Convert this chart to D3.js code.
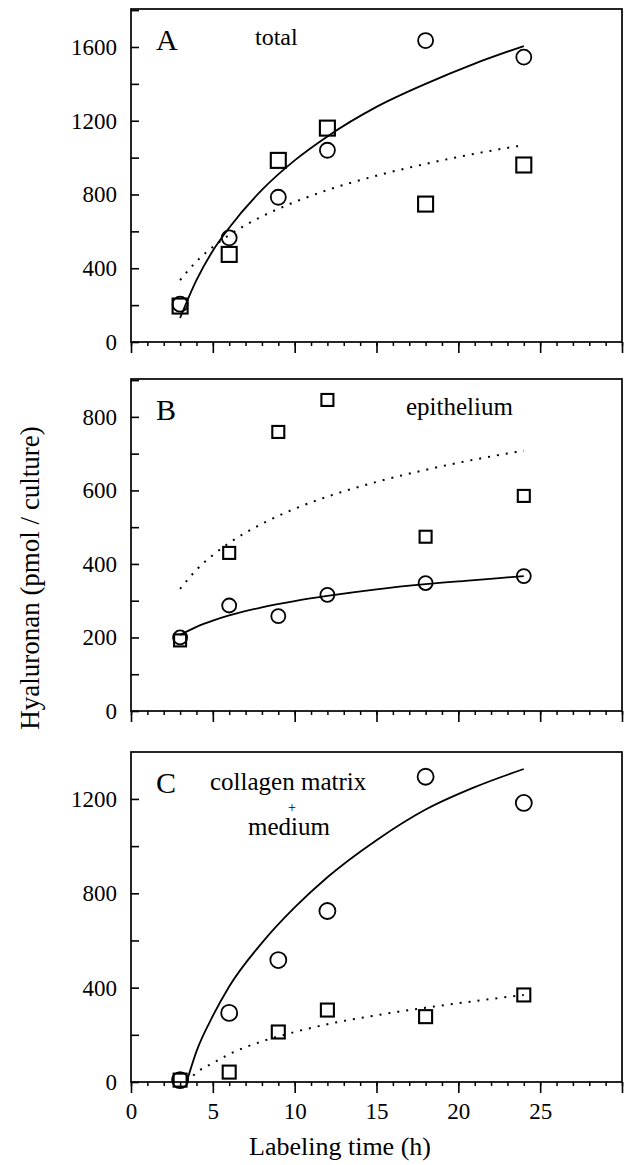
<!DOCTYPE html>
<html>
<head>
<meta charset="utf-8">
<script src="https://cdn.jsdelivr.net/npm/d3@7"></script>
<style>
  body { margin: 0; background: #fff; }
</style>
</head>
<body>
<div id="chart-area"></div>
<script>
const FONT = '"Liberation Serif", "Times New Roman", "DejaVu Serif", serif';

// labeling times (h)
const times = [3, 6, 9, 12, 18, 24];

// panel A - total
const totalCircles = [205, 565, 785, 1040, 1635, 1545];
const totalSquares = [195, 475, 985, 1160, 748, 960];
const totalSolid = [[3, 130], [4, 335], [5, 495], [6, 620], [8, 825], [10, 985], [12, 1115], [15, 1275], [18, 1400], [21, 1510], [24, 1605]];
const totalDotted = [[3, 336], [4, 437], [5, 516], [6, 580], [8, 681], [10, 759], [12, 824], [15, 902], [18, 966], [21, 1021], [24, 1068]];

// panel B - epithelium
const epiCircles = [200, 287, 258, 316, 348, 367];
const epiSquares = [192, 430, 759, 846, 474, 585];
const epiSolid = [[3, 207], [4, 229], [5, 246], [6, 260], [8, 282], [10, 299], [12, 313], [15, 331], [18, 345], [21, 356], [24, 367]];
const epiDotted = [[3, 332], [4, 384], [5, 424], [6, 457], [8, 509], [10, 550], [12, 583], [15, 623], [18, 656], [21, 684], [24, 708]];

// panel C - collagen matrix + medium
const cmCircles = [8, 293, 517, 725, 1294, 1183];
const cmSquares = [8, 42, 212, 305, 277, 369];
const cmSolid = [[3.4, 0], [4, 130], [5, 280], [6, 405], [8, 590], [10, 740], [12, 868], [15, 1025], [18, 1155], [21, 1250], [24, 1327]];
const cmDotted = [[3.4, 0], [4, 40], [5, 80], [6, 118], [8, 172], [10, 212], [12, 245], [15, 283], [18, 315], [21, 343], [24, 369]];

const xTicksMajor = [0, 5, 10, 15, 20, 25, 30];
const xTicksMinor = d3.range(0, 31, 1);

const svg = d3.select('#chart-area').append('svg')
    .attr('width', 624)
    .attr('height', 1165)
    .attr('font-family', FONT);

const x = d3.scaleLinear().domain([0, 30]).range([131, 622]);

function panel(opt) {
    const y = d3.scaleLinear().domain([0, opt.yMax]).range([opt.bottom, opt.top]);
    const g = svg.append('g');

    // y axis, ticks pointing inside
    const yAxis = d3.axisLeft(y)
        .tickValues(d3.range(0, opt.yMax, opt.minorStep))
        .tickSize(-8)
        .tickPadding(14)
        .tickFormat(d => d % opt.labelStep === 0 ? d : '');
    const ya = g.append('g').attr('transform', 'translate(' + x(0) + ',0)').call(yAxis)
        .attr('font-family', FONT);
    ya.select('.domain').remove();
    ya.selectAll('line').attr('stroke-width', 1.6);
    ya.selectAll('text').attr('font-size', '23px').attr('font-family', FONT);

    // x axis minor + major ticks
    const xMinor = d3.axisBottom(x).tickValues(xTicksMinor).tickSize(4).tickFormat('');
    const xa1 = g.append('g').attr('transform', 'translate(0,' + opt.bottom + ')').call(xMinor);
    xa1.select('.domain').remove();
    xa1.selectAll('line').attr('stroke-width', 1.5);

    const xMajor = d3.axisBottom(x).tickValues(xTicksMajor).tickSize(11).tickPadding(10)
        .tickFormat(d => (opt.xLabels && d < 30) ? d : '');
    const xa2 = g.append('g').attr('transform', 'translate(0,' + opt.bottom + ')').call(xMajor)
        .attr('font-family', FONT);
    xa2.select('.domain').remove();
    xa2.selectAll('line').attr('stroke-width', 1.6);
    xa2.selectAll('text').attr('font-size', '23px').attr('font-family', FONT);

    // frame
    g.append('rect')
        .attr('x', x(0)).attr('y', opt.top)
        .attr('width', x(30) - x(0)).attr('height', opt.bottom - opt.top)
        .attr('fill', 'none').attr('stroke', '#000').attr('stroke-width', 1.7);

    const line = d3.line().x(d => x(d[0])).y(d => y(d[1])).curve(d3.curveMonotoneX);

    g.append('path').datum(opt.dotted)
        .attr('d', line).attr('fill', 'none').attr('stroke', '#000')
        .attr('stroke-width', 2).attr('stroke-dasharray', '2,7');

    g.append('path').datum(opt.solid)
        .attr('d', line).attr('fill', 'none').attr('stroke', '#000')
        .attr('stroke-width', 1.8);

    // squares
    g.selectAll('rect.sq').data(opt.squares).enter().append('rect')
        .attr('class', 'sq')
        .attr('x', (d, i) => x(times[i]) - opt.sq / 2)
        .attr('y', d => y(d) - opt.sq / 2)
        .attr('width', opt.sq).attr('height', opt.sq)
        .attr('fill', 'none').attr('stroke', '#000').attr('stroke-width', 2.1);

    // circles
    g.selectAll('circle').data(opt.circles).enter().append('circle')
        .attr('cx', (d, i) => x(times[i]))
        .attr('cy', d => y(d))
        .attr('r', opt.r)
        .attr('fill', 'none').attr('stroke', '#000').attr('stroke-width', 1.8);

    g.append('text').attr('x', 156).attr('y', opt.top + opt.letterDy)
        .attr('font-size', '30px').text(opt.letter);

    return g;
}

const gA = panel({ top: 9, bottom: 342, yMax: 1806, minorStep: 200, labelStep: 400, letter: 'A', letterDy: 41,
    circles: totalCircles, squares: totalSquares, solid: totalSolid, dotted: totalDotted, sq: 15, r: 7.5 });
gA.append('text').attr('x', 255).attr('y', 45).attr('font-size', '24px').text('total');

const gB = panel({ top: 379, bottom: 711, yMax: 903, minorStep: 100, labelStep: 200, letter: 'B', letterDy: 41,
    circles: epiCircles, squares: epiSquares, solid: epiSolid, dotted: epiDotted, sq: 12, r: 7 });
gB.append('text').attr('x', 406).attr('y', 415).attr('font-size', '25px').text('epithelium');

const gC = panel({ top: 752, bottom: 1082, yMax: 1399, minorStep: 200, labelStep: 400, letter: 'C', letterDy: 41,
    circles: cmCircles, squares: cmSquares, solid: cmSolid, dotted: cmDotted, sq: 13, r: 8, xLabels: true });
gC.append('text').attr('x', 210).attr('y', 790).attr('font-size', '25px').text('collagen matrix');
gC.append('text').attr('x', 292).attr('y', 812).attr('font-size', '14px').attr('text-anchor', 'middle')
    .attr('fill', '#000').text('+');
gC.append('text').attr('x', 248).attr('y', 835).attr('font-size', '25px').text('medium');

// axis titles
svg.append('text')
    .attr('x', 340).attr('y', 1155)
    .attr('text-anchor', 'middle').attr('font-size', '26px')
    .text('Labeling time (h)');

svg.append('text')
    .attr('transform', 'translate(39,578) rotate(-90)')
    .attr('text-anchor', 'middle').attr('font-size', '27px')
    .text('Hyaluronan (pmol / culture)');
</script>
</body>
</html>
